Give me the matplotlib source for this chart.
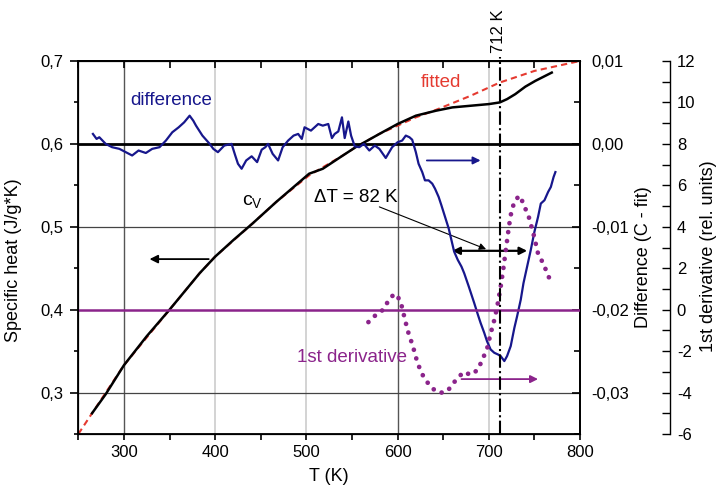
import numpy as np
import matplotlib
matplotlib.use("Agg")
import matplotlib.pyplot as plt
from matplotlib.ticker import FuncFormatter, MultipleLocator

plt.rcParams['font.family'] = ['Liberation Sans', 'DejaVu Sans']
plt.rcParams['mathtext.fontset'] = 'custom'
plt.rcParams['mathtext.rm'] = 'Liberation Sans'

# --- measured specific heat (black) ---
T_cv = [265, 280, 300, 325, 350, 383, 400, 420, 441, 467, 503, 518, 540, 554,
        580, 600, 620, 642, 660, 680, 700, 712, 720, 729, 740, 751, 760, 769]
cv = [0.275, 0.298, 0.333, 0.368, 0.400, 0.444, 0.464, 0.484, 0.504, 0.530, 0.564, 0.570,
      0.586, 0.596, 0.612, 0.624, 0.634, 0.640, 0.644, 0.646, 0.648, 0.650, 0.654,
      0.660, 0.669, 0.676, 0.681, 0.686]

# --- fitted curve (red dashed) ---
T_fit = [250, 265, 300, 350, 383, 400, 441, 467, 503, 540, 554, 580, 620, 642,
         680, 712, 750, 800]
cv_fit = [0.250, 0.275, 0.333, 0.400, 0.444, 0.464, 0.504, 0.530, 0.562, 0.586, 0.596,
          0.612, 0.632, 0.641, 0.658, 0.674, 0.688, 0.700]

# --- difference C - fit (blue) ---
T_diff = [266, 270, 273, 280, 287, 295, 302, 309, 316, 324, 331, 339, 346, 353, 360,
          366, 372, 376, 379, 386, 394, 398, 403, 410, 418, 422, 425, 429, 434, 440,
          446, 451, 455, 458, 463, 469, 474, 480, 486, 491, 495, 498, 505, 513, 518,
          524, 528, 531, 535, 539, 542, 546, 549, 553, 558, 563, 569, 575, 580, 587,
          594, 600, 605, 609, 613, 616, 620, 623, 627, 630, 634, 638, 641, 645, 648,
          652, 656, 659, 662, 666, 670, 673, 678, 684, 688, 691, 695, 698, 702, 706,
          710, 713, 717, 720, 724, 728, 731, 735, 738, 742, 746, 750, 754, 757, 761,
          765, 768, 771, 773]
diff = [0.0012, 0.0006, 0.0008, 0.0, -0.0004, -0.0006, -0.001, -0.0014, -0.0008, -0.0011,
        -0.0006, -0.0004, 0.0004, 0.0014, 0.002, 0.0026, 0.0034, 0.0028, 0.0022, 0.001,
        0.0, -0.0006, -0.001, -0.0002, 0.0, -0.0014, -0.0024, -0.003, -0.002, -0.0015,
        -0.0022, -0.0007, -0.0004, 0.0, -0.0012, -0.002, -0.0004, 0.0004, 0.001, 0.0012,
        0.0006, 0.002, 0.0016, 0.0024, 0.0022, 0.0024, 0.0007, 0.0012, 0.0015, 0.0032,
        0.0007, 0.0027, 0.001, -0.0003, -0.0004, 0.0, -0.0008, -0.0002, -0.0006, -0.0017,
        -0.0004, 0.0002, 0.0004, 0.001, 0.0008, 0.0005, -0.001, -0.0024, -0.0034, -0.0044,
        -0.0044, -0.0048, -0.0054, -0.0064, -0.0074, -0.0088, -0.0102, -0.0116, -0.013,
        -0.014, -0.0148, -0.0156, -0.0172, -0.0192, -0.0206, -0.0216, -0.0228, -0.0238,
        -0.0248, -0.0252, -0.0254, -0.0256, -0.0262, -0.0256, -0.0244, -0.0222, -0.0208,
        -0.0188, -0.0168, -0.0148, -0.0128, -0.0106, -0.0088, -0.0072, -0.0068, -0.0058,
        -0.0052, -0.004, -0.0034]

# --- 1st derivative (purple dots) ---
T_der = [568, 575, 582, 587, 591, 597, 603, 606, 611, 617, 622, 629, 637, 644, 652,
         657, 662, 668, 673, 680, 688, 693, 698, 702, 706, 709, 713, 716, 719, 722,
         725, 729, 734, 738, 744, 749, 754, 760, 765, 769]
deriv = [-0.6, -0.3, -0.1, 0.2, 0.53, 0.77, 0.45, -0.1, -1.0, -1.8, -2.6, -3.3, -3.75,
         -4.0, -4.0, -3.8, -3.5, -3.2, -3.0, -3.15, -2.9, -2.4, -1.9, -1.15, -0.5, 0.1,
         1.1, 2.0, 3.0, 4.0, 4.8, 5.3, 5.5, 5.1, 4.45, 3.65, 2.7, 2.2, 1.65, 1.25]

T_peak = 712
x_ticks = [300, 400, 500, 600, 700, 800]

BLUE = '#17178c'
PURPLE = '#8b248b'
RED = '#e53a30'

def comma(fmt):
    return FuncFormatter(lambda v, p: fmt.format(v).replace('.', ','))

fig = plt.figure(figsize=(7.2, 4.95), dpi=100)
ax = fig.add_axes([0.1088, 0.1232, 0.6968, 0.7536])

# grid lines (mixed shades like the original)
for x in [300, 600]:
    ax.axvline(x, color='#555555', lw=1.0, zorder=0)
for x in [400, 500, 700]:
    ax.axvline(x, color='#cccccc', lw=1.2, zorder=0)
for y in [0.5, 0.3]:
    ax.axhline(y, color='#444444', lw=0.9, zorder=0)

ax.plot(T_fit, cv_fit, color=RED, ls=(0, (3, 2)), lw=1.5, zorder=2)
ax.plot(T_cv, cv, color='black', lw=1.8, zorder=3)

ax.set_xlim(250, 800)
ax.set_ylim(0.25, 0.7)
ax.set_xticks(x_ticks)
ax.xaxis.set_minor_locator(MultipleLocator(50))
ax.yaxis.set_major_locator(MultipleLocator(0.1))
ax.yaxis.set_minor_locator(MultipleLocator(0.05))
ax.yaxis.set_major_formatter(comma('{:.1f}'))
ax.tick_params(axis='x', which='major', direction='out', length=4, width=1.2,
               labelsize=12, pad=4)
ax.tick_params(axis='x', which='minor', direction='out', length=4, width=1.2)
ax.tick_params(axis='y', which='major', direction='out', length=6, width=1.2,
               labelsize=12, pad=5)
ax.tick_params(axis='y', which='minor', direction='out', length=3, width=1.2)
ax.set_xlabel('T (K)', fontsize=13, labelpad=6)
ax.set_ylabel('Specific heat (J/g*K)', fontsize=13)
ax.yaxis.set_label_coords(-0.112, 0.466)
for s in ax.spines.values():
    s.set_linewidth(1.3)

top = ax.secondary_xaxis('top')
top.set_xticks(x_ticks)
top.xaxis.set_minor_locator(MultipleLocator(50))
top.tick_params(which='both', direction='in', length=5, width=1.2, labelsize=0,
                labeltop=False)
top.spines['top'].set_linewidth(1.3)

# difference axis
ax2 = ax.twinx()
ax2.axhline(0, color='black', lw=2.0, zorder=1)
ax2.plot(T_diff, diff, color=BLUE, lw=1.6, zorder=3)
ax2.set_ylim(-0.035, 0.01)
ax2.yaxis.set_major_locator(MultipleLocator(0.01))
ax2.yaxis.set_minor_locator(MultipleLocator(0.005))
ax2.yaxis.set_major_formatter(comma('{:.2f}'))
ax2.tick_params(axis='y', which='major', direction='in', length=6, width=1.2,
                labelsize=12, pad=8)
ax2.tick_params(axis='y', which='minor', direction='in', length=4, width=1.2)
ax2.set_ylabel('Difference (C - fit)', fontsize=13, va='center')
ax2.yaxis.set_label_coords(1.126, 0.475)
ax2.spines['right'].set_linewidth(1.3)

# derivative axis
ax3 = ax.twinx()
ax3.spines['right'].set_position(('axes', 1.179))
ax3.spines['right'].set_linewidth(1.0)
ax3.axhline(0, color=PURPLE, lw=1.8, zorder=1)
ax3.plot(T_der, deriv, color=PURPLE, lw=3.4, ls=(0, (0.01, 1.9)),
         dash_capstyle='round', zorder=3)
ax3.set_ylim(-6, 12)
ax3.yaxis.set_major_locator(MultipleLocator(2))
ax3.yaxis.set_minor_locator(MultipleLocator(1))
ax3.yaxis.set_major_formatter(FuncFormatter(lambda v, p: '{:d}'.format(int(round(v)))))
ax3.tick_params(axis='y', which='both', direction='in', length=6, width=1.0,
                labelsize=12, pad=5)
ax3.set_ylabel('1st derivative (rel. units)', fontsize=13, va='center')
ax3.yaxis.set_label_coords(1.257, 0.477)

# 712 K marker
ax3.axvline(T_peak, ymin=0, ymax=1.012, color='black', lw=1.5, ls='-.', clip_on=False,
            zorder=4)
ax3.text(T_peak - 1, 1.022, '712 K', rotation=90, ha='center', va='bottom', fontsize=12,
         transform=ax3.get_xaxis_transform())

# arrows
ax.annotate('', xy=(325, 0.461), xytext=(396, 0.461),
            arrowprops=dict(arrowstyle='-|>', color='black', lw=1.3, mutation_scale=12))
ax.annotate('', xy=(660, 0.471), xytext=(742, 0.471),
            arrowprops=dict(arrowstyle='<|-|>', color='black', lw=1.6, mutation_scale=11,
                            shrinkA=0, shrinkB=0))
ax.annotate('', xy=(697, 0.473), xytext=(580, 0.524),
            arrowprops=dict(arrowstyle='-|>', color='black', lw=0.8, mutation_scale=10,
                            shrinkA=0, shrinkB=0))
ax2.annotate('', xy=(694, -0.002), xytext=(629, -0.002),
             arrowprops=dict(arrowstyle='-|>', color=BLUE, lw=1.3, mutation_scale=11))
ax3.annotate('', xy=(757, -3.35), xytext=(667, -3.35),
             arrowprops=dict(arrowstyle='-|>', color=PURPLE, lw=1.3, mutation_scale=11))

# labels
ax.text(307, 0.652, 'difference', color=BLUE, fontsize=13.5, va='center')
ax.text(625, 0.674, 'fitted', color=RED, fontsize=13.5, va='center')
ax.text(429, 0.531, r'$\mathregular{c_V}$', color='black', fontsize=14, va='center')
ax.text(508, 0.535, 'ΔT = 82 K', color='black', fontsize=13.5, va='center')
ax.text(490, 0.342, '1st derivative', color=PURPLE, fontsize=13.5, va='center')

fig.savefig('out.png', dpi=100)
